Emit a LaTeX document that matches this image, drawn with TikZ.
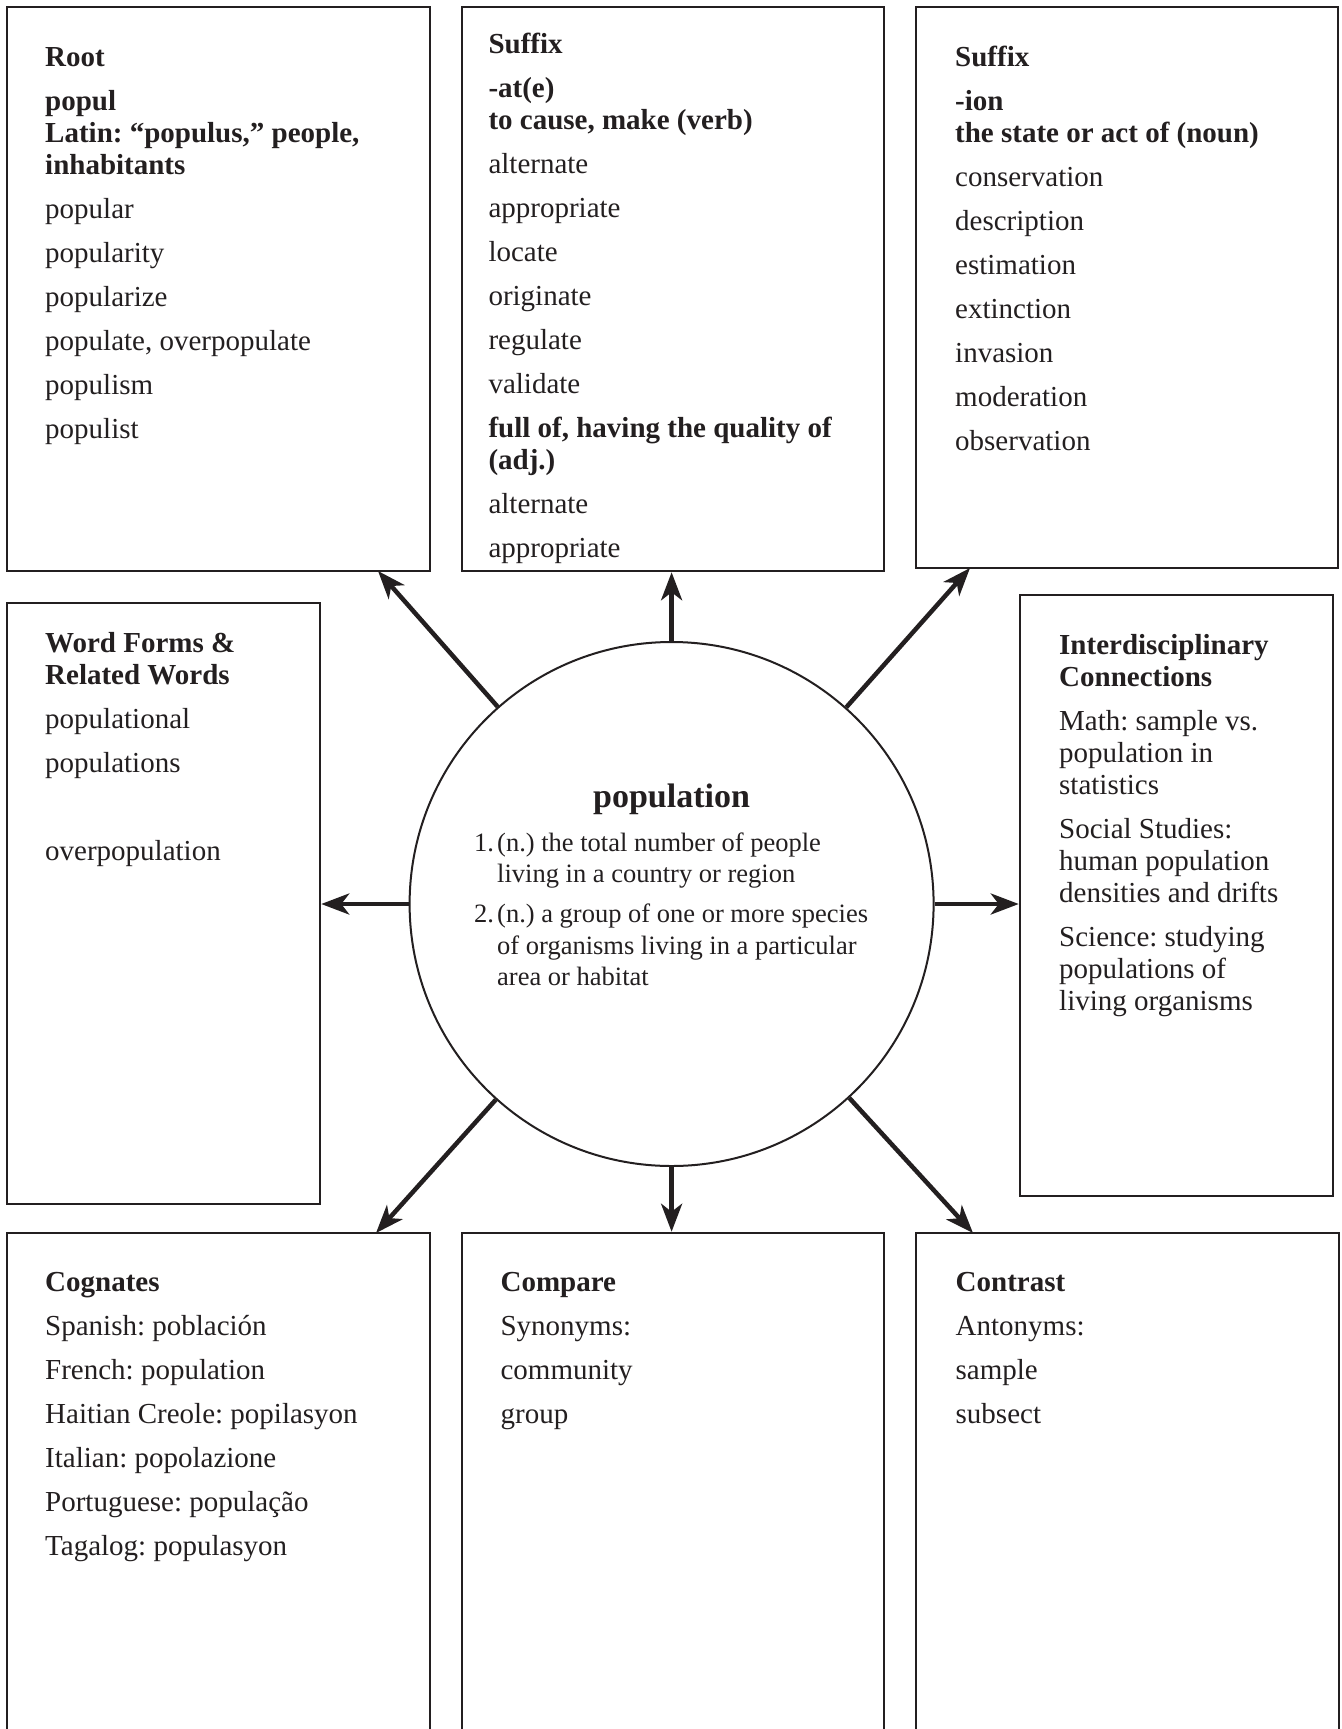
\documentclass[tikz,border=0pt]{standalone}
\usepackage{fontspec}
\setmainfont{Liberation Serif}
\usetikzlibrary{arrows.meta}
\definecolor{ink}{RGB}{35,31,32}
\frenchspacing
\newcommand{\boxtext}[2]{\parbox[t]{#1pt}{\raggedright\frenchspacing\fontsize{29pt}{32pt}\selectfont\setlength{\parskip}{12pt}#2}}
\begin{document}
\begin{tikzpicture}[x=1pt,y=-1pt,
  frame/.style={draw=ink,line width=2.5pt,rectangle,inner sep=0pt},
  txt/.style={anchor=base west,inner sep=0pt,text=ink},
  arr/.style={draw=ink,line width=4.5pt,-{Stealth[length=28pt,width=21pt,inset=8pt]}}]
\useasboundingbox (0,0) rectangle (1341,1729);
\clip (0,0) rectangle (1341,1729);
\fill[white] (0,0) rectangle (1341,1729);

% boxes
\node[frame,minimum width=423pt,minimum height=564pt] (root) at (218.5,289) {};
\node[frame,minimum width=422pt,minimum height=564pt] (suf1) at (673,289) {};
\node[frame,minimum width=422pt,minimum height=561pt] (suf2) at (1127,287.5) {};
\node[frame,minimum width=313pt,minimum height=601pt] (wf) at (163.5,903.5) {};
\node[frame,minimum width=313pt,minimum height=601pt] (inter) at (1176.5,895.5) {};
\node[frame,minimum width=423pt,minimum height=537pt] (cog) at (218.5,1501.5) {};
\node[frame,minimum width=422pt,minimum height=537pt] (comp) at (673,1501.5) {};
\node[frame,minimum width=423pt,minimum height=537pt] (contr) at (1127.5,1501.5) {};

% centre circle
\node[draw=ink,line width=2pt,circle,minimum size=524pt,inner sep=0pt] (pop) at (671.6,904) {};
\node[anchor=base,inner sep=0pt,text=ink,font=\fontsize{34pt}{40pt}\selectfont\bfseries] (title) at (671.6,807) {population};
\node[txt] (defs) at (474,851) {\parbox[t]{420pt}{\frenchspacing\fontsize{26.5pt}{31.5pt}\selectfont\setlength{\parskip}{8.5pt}%
\hangindent=23pt\hangafter=1 \makebox[23pt][l]{1.}(n.) the total number of people\\living in a country or region\par
\hangindent=23pt\hangafter=1 \makebox[23pt][l]{2.}(n.) a group of one or more species\\of organisms living in a particular\\area or habitat}};

% texts
\node[txt] (rootT) at (45,66.6) {\boxtext{370}{\textbf{Root}\par
\textbf{popul\\Latin: “populus,” people,\\inhabitants}\par
popular\par popularity\par popularize\par populate, overpopulate\par populism\par populist}};

\node[txt] (suf1T) at (488.3,53.6) {\boxtext{370}{\textbf{Suffix}\par
\textbf{-at(e)\\to cause, make (verb)}\par
alternate\par appropriate\par locate\par originate\par regulate\par validate\par
\textbf{full of, having the quality of\\(adj.)}\par
alternate\par appropriate}};

\node[txt] (suf2T) at (955,66.6) {\boxtext{370}{\textbf{Suffix}\par
\textbf{-ion\\the state or act of (noun)}\par
conservation\par description\par estimation\par extinction\par invasion\par moderation\par observation}};

\node[txt] (wfT) at (45,652) {\boxtext{270}{\textbf{Word Forms \&\\Related Words}\par
populational\par populations\par \mbox{}\par overpopulation}};

\node[txt] (interT) at (1059,654) {\boxtext{270}{\textbf{Interdisciplinary\\Connections}\par
Math: sample vs.\\population in\\statistics\par
Social Studies:\\human population\\densities and drifts\par
Science: studying\\populations of\\living organisms}};

\node[txt] (cogT) at (45,1291.5) {\boxtext{370}{\textbf{Cognates}\par
Spanish: población\par French: population\par Haitian Creole: popilasyon\par Italian: popolazione\par Portuguese: população\par Tagalog: populasyon}};

\node[txt] (compT) at (500.4,1291.5) {\boxtext{370}{\textbf{Compare}\par Synonyms:\par community\par group}};

\node[txt] (contrT) at (955.5,1291.5) {\boxtext{370}{\textbf{Contrast}\par Antonyms:\par sample\par subsect}};

% arrow targets
\coordinate (tNW) at (378,571);
\coordinate (tNE) at (970,568);
\coordinate (tSW) at (376,1233);
\coordinate (tSE) at (973,1233);

\draw[arr] (pop) -- (pop |- suf1.south);
\draw[arr] (pop) -- (tNW);
\draw[arr] (pop) -- (tNE);
\draw[arr] (pop) -- (pop -| wf.east);
\draw[arr] (pop) -- (pop -| inter.west);
\draw[arr] (pop) -- (tSW);
\draw[arr] (pop) -- (pop |- comp.north);
\draw[arr] (pop) -- (tSE);
\end{tikzpicture}
\end{document}
